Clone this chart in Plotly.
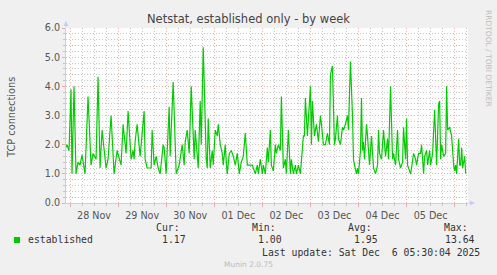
import pandas as pd
import plotly.graph_objects as go

# ---- data ----
# offsets in half-hour steps from 2025-11-28 00:00
half_hours = [
    -4, -3, -1, 1, 2, 4, 6, 8, 10, 12, 15, 18, 21, 23, 26, 28, 30, 32, 36, 38, 41, 44, 47, 51, 53, 56, 58, 61, 63,
    64, 65, 67, 70, 74, 75, 77, 79, 81, 82, 84, 86, 88, 90, 93, 94, 96, 99, 100, 103, 105, 106, 109, 112, 114, 115,
    117, 119, 121, 124, 125, 128, 130,
    131, 133, 135, 136, 137, 138, 140, 142, 143, 145, 147, 148, 150, 152, 153, 155, 156, 157, 159, 161, 163, 165,
    167, 169, 171, 173, 175, 177, 178, 182, 183, 185, 187, 188, 190, 192, 193, 195, 197, 198,
    200, 201, 203, 205, 206, 208, 210, 211, 213, 215, 216, 218, 220, 221, 223, 225, 226, 228, 230, 231, 233, 234,
    235, 237, 240, 241, 242, 244, 246, 248, 249, 250, 251, 253, 255, 257, 259, 260, 262, 264, 265, 267,
    268, 270, 272, 273, 275, 277, 278, 280, 282, 283, 284, 286, 287, 288, 290, 291, 292, 293, 294, 296, 297, 298,
    299, 301, 302, 303, 304, 305, 307, 308, 309, 311, 312, 313, 315, 317, 318, 320, 322, 323, 325, 327, 328, 330,
    332, 333,
    335, 336, 337, 339, 340, 341, 343, 345, 346, 348, 350, 351, 353, 354, 356, 357, 359, 360, 362, 364, 365, 366,
    368, 369, 370, 371, 373, 375, 376, 377, 379, 380, 381, 383, 384, 385, 386, 388, 389, 390, 391, 392, 394, 395,
]
established = [
    1.9, 2.0, 1.8, 3.9, 1.0, 4.0, 1.0, 1.4, 1.3, 1.65, 1.0, 3.65, 1.3, 1.7, 1.5, 4.33, 1.2, 2.5, 1.2, 1.5, 3.0, 1.0,
    1.8, 1.3, 2.7, 1.7, 3.15, 1.5, 1.8,
    1.5, 2.1, 2.7, 1.6, 3.15, 1.5, 1.2, 1.2, 1.2, 2.5, 1.3, 1.6, 1.2, 1.0, 2.0, 1.9, 1.0, 3.3, 1.6, 4.15, 1.5, 1.0,
    1.3, 2.0, 1.3, 2.1, 2.5, 1.7, 4.0, 1.5, 2.5, 1.2, 3.5,
    2.0, 5.34, 2.0, 1.5, 1.2, 2.9, 1.2, 1.8, 1.3, 2.5, 2.3, 2.7, 2.0, 1.7, 1.3, 2.0, 1.4, 1.0, 1.7, 1.8, 1.6, 1.3,
    1.7, 1.0, 1.4, 1.6, 2.4, 1.3, 1.3, 1.3, 1.2, 1.0, 1.3, 1.0, 1.5, 1.0, 1.3, 1.0, 1.9, 1.4,
    2.5, 1.3, 1.1, 2.0, 1.7, 2.0, 1.8, 3.65, 1.2, 1.5, 1.0, 2.5, 1.0, 1.5, 1.0, 1.3, 1.0, 1.3, 1.0, 1.4, 2.3, 2.3,
    3.6, 2.3, 4.0, 2.0, 3.5, 2.3, 2.7, 2.1, 2.5, 3.0, 2.7, 2.0, 2.0, 2.4, 2.0, 4.4, 4.7, 2.0, 2.2, 3.0,
    2.2, 2.0, 2.6, 2.5, 2.7, 3.0, 2.5, 4.85, 3.0, 1.5, 1.3, 1.0, 1.2, 1.0, 1.8, 3.6, 1.8, 2.1, 1.5, 2.7, 2.3, 1.5,
    1.3, 2.3, 1.5, 1.2, 1.1, 1.0, 1.3, 2.5, 1.7, 1.5, 2.0, 2.5, 1.6, 2.2, 1.5, 4.0, 1.5, 1.7, 1.3, 2.5, 1.5, 1.2,
    1.4, 2.6,
    1.5, 2.9, 1.3, 1.1, 1.0, 1.2, 1.7, 1.5, 1.3, 1.7, 1.7, 2.0, 1.0, 1.6, 1.8, 1.3, 1.8, 1.3, 1.7, 3.2, 2.0, 1.3,
    3.4, 3.5, 1.5, 2.0, 1.6, 1.7, 4.0, 2.5, 2.6, 2.4, 2.3, 1.3, 1.1, 1.3, 1.0, 2.2, 1.3, 1.3, 1.9, 1.2, 1.6, 1.0,
]
legend_name = "established"
stat_labels = ["Cur:", "Min:", "Avg:", "Max:"]
stat_values = ["1.17", "1.00", "1.95", "13.64"]
last_update = "Last update: Sat Dec\u00a0\u00a06 05:30:04 2025"

base = pd.Timestamp("2025-11-28 00:00")
times = [base + pd.Timedelta(minutes=30 * h) for h in half_hours]

# ---- layout helpers (pixel -> paper) ----
W, H = 497, 275
L, R, T, B = 66, 29, 28, 72
PW, PH = W - L - R, H - T - B


def px(x):
    return (x - L) / PW


def py(y):
    return (H - B - y) / PH


RED = "rgba(225,120,120,0.55)"
GRAY = "rgba(170,170,170,0.65)"
AXIS = "#C8CCF8"
TXT = "#555555"

fig = go.Figure()
fig.add_trace(go.Scatter(
    x=times, y=established, mode="lines",
    line=dict(color="#00CC00", width=1.2),
    showlegend=False, hoverinfo="skip",
))

fig.update_layout(
    width=W, height=H,
    margin=dict(l=L, r=R, t=T, b=B, pad=0),
    paper_bgcolor="#F0F0F0", plot_bgcolor="#FFFFFF",
    font=dict(family="DejaVu Sans", size=10, color=TXT),
    showlegend=False,
)

fig.update_xaxes(
    type="date",
    range=["2025-11-27 22:00", "2025-12-06 06:40"],
    dtick=86400000, tick0="2025-11-28",
    ticklabelmode="period", tickformat="%d %b",
    tickfont=dict(family="DejaVu Sans", size=9.6, color=TXT),
    showgrid=True, gridcolor=RED, griddash="1px,2px", gridwidth=1,
    ticks="outside", ticklen=3, tickcolor=RED,
    showline=True, linecolor=AXIS, linewidth=1,
    zeroline=False,
    minor=dict(dtick=6 * 3600000, showgrid=True, gridcolor=GRAY, griddash="1px,2px",
               ticks="outside", ticklen=2, tickcolor=GRAY),
)
fig.update_yaxes(
    range=[0, 6], dtick=1, tick0=0, tickformat=".1f",
    tickfont=dict(family="DejaVu Sans", size=9.6, color=TXT),
    showgrid=True, gridcolor=RED, griddash="1px,2px", gridwidth=1,
    ticks="outside", ticklen=3, tickcolor=RED,
    showline=True, linecolor=AXIS, linewidth=1,
    zeroline=False,
    minor=dict(dtick=0.2, showgrid=True, gridcolor=GRAY, griddash="1px,2px",
               ticks="outside", ticklen=2, tickcolor=GRAY),
)

ann = []


def text(x, y, s, size=10, color=TXT, family="DejaVu Sans", xanchor="left", angle=0):
    ann.append(dict(x=px(x), y=py(y), xref="paper", yref="paper", text=s, showarrow=False,
                    xanchor=xanchor, yanchor="middle", textangle=angle,
                    font=dict(family=family, size=size, color=color)))


text(248, 19, "Netstat, established only - by week", size=11.5, color="#444444", xanchor="center")
text(12, 118, "TCP connections", size=9.8, color=TXT, xanchor="center", angle=-90)
text(488, 58, "RRDTOOL / TOBI OETIKER", size=7.5, color="#BDBDBD", xanchor="center", angle=90)

MONO = "DejaVu Sans Mono"
text(26, 239, legend_name, size=9.8, color="#333333", family=MONO)
stat_right = [182, 278, 374, 470]
val_right = [188, 284, 380, 477]
for lab, val, xr, xv in zip(stat_labels, stat_values, stat_right, val_right):
    text(xr, 227, lab, size=9.8, color="#333333", family=MONO, xanchor="right")
    text(xv, 239, val, size=9.8, color="#333333", family=MONO, xanchor="right")
text(482, 252, last_update, size=9.8, color="#333333", family=MONO, xanchor="right")
text(248, 264, "Munin 2.0.75", size=7.5, color="#BBBBBB", xanchor="center")

# axis arrows
ann.append(dict(x=px(66), y=py(21), xref="paper", yref="paper", ax=0, ay=8, text="",
                showarrow=True, arrowhead=2, arrowsize=1, arrowwidth=1, arrowcolor=AXIS))
ann.append(dict(x=px(475), y=py(203), xref="paper", yref="paper", ax=-8, ay=0, text="",
                showarrow=True, arrowhead=2, arrowsize=1, arrowwidth=1, arrowcolor=AXIS))

fig.update_layout(annotations=ann)

# legend colour square
fig.add_shape(type="rect", xref="paper", yref="paper",
              x0=px(14), x1=px(20), y0=py(243), y1=py(237),
              fillcolor="#00CC00", line=dict(width=0))

fig.write_html("out.html")
